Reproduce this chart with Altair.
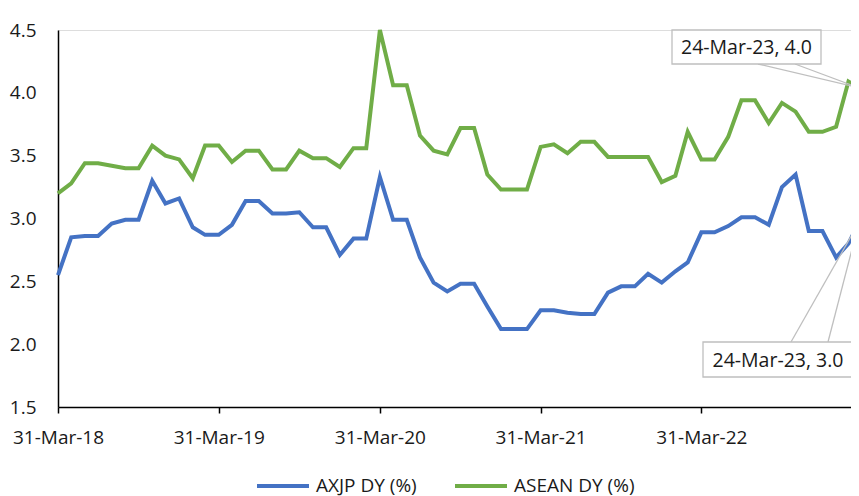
import altair as alt
import pandas as pd

# ---- data ----
month_ends = [d.strftime("%Y-%m-%d") for d in pd.date_range("2018-03-31", periods=60, freq="ME")]
dates = month_ends + ["2023-03-24"]

axjp = [2.55, 2.85, 2.86, 2.86, 2.96, 2.99, 2.99, 3.30, 3.12, 3.16,
        2.93, 2.87, 2.87, 2.95, 3.14, 3.14, 3.04, 3.04, 3.05, 2.93,
        2.93, 2.71, 2.84, 2.84, 3.33, 2.99, 2.99, 2.69, 2.49, 2.42,
        2.48, 2.48, 2.30, 2.12, 2.12, 2.12, 2.27, 2.27, 2.25, 2.24,
        2.24, 2.41, 2.46, 2.46, 2.56, 2.49, 2.58, 2.65, 2.89, 2.89,
        2.94, 3.01, 3.01, 2.95, 3.25, 3.35, 2.90, 2.90, 2.69, 2.80,
        2.97]
asean = [3.20, 3.28, 3.44, 3.44, 3.42, 3.40, 3.40, 3.58, 3.50, 3.47,
         3.32, 3.58, 3.58, 3.45, 3.54, 3.54, 3.39, 3.39, 3.54, 3.48,
         3.48, 3.41, 3.56, 3.56, 4.50, 4.06, 4.06, 3.66, 3.54, 3.51,
         3.72, 3.72, 3.35, 3.23, 3.23, 3.23, 3.57, 3.59, 3.52, 3.61,
         3.61, 3.49, 3.49, 3.49, 3.49, 3.29, 3.34, 3.69, 3.47, 3.47,
         3.65, 3.94, 3.94, 3.76, 3.92, 3.85, 3.69, 3.69, 3.73, 4.09,
         4.04]
series_names = ["AXJP DY (%)", "ASEAN DY (%)"]
series_colors = ["#4472C4", "#70AD47"]
y_ticks = [1.5, 2.0, 2.5, 3.0, 3.5, 4.0, 4.5]
x_tick_years = [2018, 2019, 2020, 2021, 2022]
label_texts = ["24-Mar-23, 3.0", "24-Mar-23, 4.0"]

FONT = "Open Sans"
TXT = "#1a1a1a"
FS = 19

rows = []
for name, vals in zip(series_names, [axjp, asean]):
    for d, v in zip(dates, vals):
        rows.append({"date": d + "T00:00:00", "value": v, "series": name})
df = pd.DataFrame(rows)

x_scale = alt.Scale(domain=[alt.DateTime(year=2018, month=3, date=31),
                            alt.DateTime(year=2023, month=3, date=24)], nice=False)
y_scale = alt.Scale(domain=[1.5, 4.5], nice=False, zero=False)

x_enc = alt.X("date:T", scale=x_scale, title=None,
              axis=alt.Axis(values=[alt.DateTime(year=y, month=3, date=31) for y in x_tick_years],
                            format="%d-%b-%y", tickSize=6, tickColor="black", tickWidth=1.5,
                            domainColor="black", domainWidth=1.5, labelFontSize=FS,
                            labelColor=TXT, labelPadding=15, grid=False, labelFont=FONT,
                            labelFlush=False))
y_enc = alt.Y("value:Q", scale=y_scale, title=None,
              axis=alt.Axis(values=y_ticks, format=".1f", ticks=False, domainColor="black",
                            domainWidth=1.5, labelFontSize=FS, labelColor=TXT,
                            labelPadding=22, grid=False, labelFont=FONT))

lines = alt.Chart(df).mark_line(strokeWidth=4, strokeJoin="miter").encode(
    x=x_enc, y=y_enc,
    color=alt.Color("series:N", scale=alt.Scale(domain=series_names, range=series_colors),
                    legend=alt.Legend(title=None, orient="none", legendX=197, legendY=428,
                                      direction="horizontal", symbolType="stroke",
                                      symbolSize=2704, symbolStrokeWidth=4,
                                      labelFontSize=FS, labelFont=FONT, labelColor=TXT,
                                      columnPadding=30, labelOffset=5)),
)

# annotation data: last points
ann = pd.DataFrame({
    "date": [dates[-1] + "T00:00:00"] * 2,
    "value": [axjp[-1], asean[-1]],
    "label": label_texts,
})
ann_blue = ann.iloc[[0]]
ann_green = ann.iloc[[1]]


def callout(d, bx1, bx2, by1, by2, lx1, lx2, ly):
    base = alt.Chart(d)
    l1 = base.mark_rule(color="#BFBFBF", strokeWidth=1.3).encode(
        x=alt.X("date:T", scale=x_scale), y=alt.Y("value:Q", scale=y_scale),
        x2=alt.value(lx1), y2=alt.value(ly))
    l2 = base.mark_rule(color="#BFBFBF", strokeWidth=1.3).encode(
        x=alt.X("date:T", scale=x_scale), y=alt.Y("value:Q", scale=y_scale),
        x2=alt.value(lx2), y2=alt.value(ly))
    box = base.mark_rect(fill="white", stroke="#BFBFBF", strokeWidth=1.3).encode(
        x=alt.value(bx1), x2=alt.value(bx2), y=alt.value(by1), y2=alt.value(by2))
    txt = base.mark_text(fontSize=19.5, font=FONT, color=TXT, align="center",
                         baseline="middle").encode(
        x=alt.value((bx1 + bx2) / 2), y=alt.value((by1 + by2) / 2 + 1), text="label:N")
    return [l1, l2, box, txt]


layers = [lines] + callout(ann_green, 614, 763, 0, 34, 700, 737, 34) \
    + callout(ann_blue, 645, 795, 312, 347, 733, 770, 312)

chart = alt.layer(*layers).properties(
    width=801, height=377,
    autosize=alt.AutoSizeParams(type="none"),
    padding={"left": 50, "top": 22, "right": -8, "bottom": 89},
).configure_view(stroke=None).configure(font=FONT)

chart.save("out.html", embed_options={"renderer": "svg", "actions": False})
